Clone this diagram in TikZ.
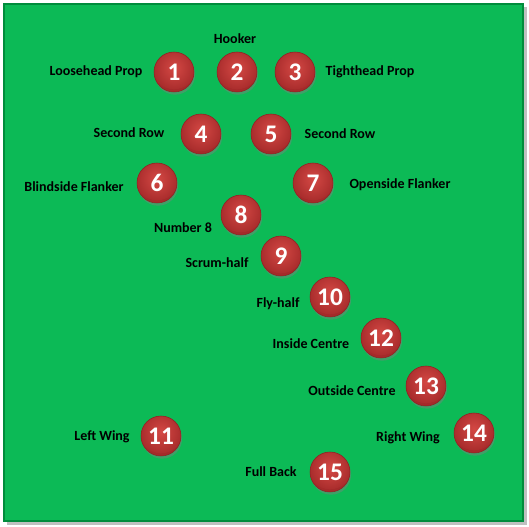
\documentclass[tikz,border=0pt]{standalone}
\usepackage{fontspec}
\setmainfont{Carlito}
\usetikzlibrary{shadows}
\definecolor{vertTerrain}{RGB}{12, 186, 86}
\definecolor{vertBord}{RGB}{0, 140, 60}
\definecolor{rougeBalle}{RGB}{212, 72, 68}
\definecolor{rougeFonce}{RGB}{165, 42, 42}
\definecolor{griOmbre}{RGB}{150, 150, 150}

\begin{document}
\begin{tikzpicture}[x=0.75pt, y=-0.75pt,
  ball/.style={circle, minimum size=30pt, inner sep=0pt,
    fill=rougeFonce, draw=rougeFonce!85!black, thin,
    path picture={\shade[inner color=rougeBalle, outer color=rougeFonce]
      ([yshift=4pt]path picture bounding box.center) circle (17pt);},
    drop shadow={shadow xshift=0.8pt, shadow yshift=-2pt, opacity=0.45},
    text=white, font=\fontsize{19}{19}\selectfont\bfseries},
  lbl/.style={font=\fontsize{10.5}{12}\selectfont\bfseries, text=black},
]
\useasboundingbox (0,0) rectangle (529,527);
% terrain
\fill[griOmbre!60] (7,7) rectangle (527,525);
\draw[fill=vertTerrain, draw=vertBord, line width=1pt] (4,4) rectangle (523,521);
% avants
\node[ball] (p1)  at (174, 72)  {1};
\node[ball] (p2)  at (237, 72)  {2};
\node[ball] (p3)  at (295, 72)  {3};
\node[ball] (p4)  at (201,134)  {4};
\node[ball] (p5)  at (271,134)  {5};
\node[ball] (p6)  at (157,183)  {6};
\node[ball] (p7)  at (313,183)  {7};
\node[ball] (p8)  at (241,215)  {8};
% arrieres
\node[ball] (p9)  at (281,256)  {9};
\node[ball] (p10) at (330,297)  {10};
\node[ball] (p12) at (381,338)  {12};
\node[ball] (p13) at (426,386)  {13};
\node[ball] (p11) at (161,436)  {11};
\node[ball] (p14) at (474,433)  {14};
\node[ball] (p15) at (330,472)  {15};
% noms des postes
\node[lbl] (l2)  at (235, 39)  {Hooker};
\node[lbl] (l1)  at ( 96, 72)  {Loosehead Prop};
\node[lbl] (l3)  at (370, 72)  {Tighthead Prop};
\node[lbl] (l4)  at (129,133)  {Second Row};
\node[lbl] (l5)  at (340,134)  {Second Row};
\node[lbl] (l6)  at ( 74,187)  {Blindside Flanker};
\node[lbl] (l7)  at (400,185)  {Openside Flanker};
\node[lbl] (l8)  at (183,228)  {Number 8};
\node[lbl] (l9)  at (217,263)  {Scrum-half};
\node[lbl] (l10) at (278,304)  {Fly-half};
\node[lbl] (l12) at (311,344)  {Inside Centre};
\node[lbl] (l13) at (352,391)  {Outside Centre};
\node[lbl] (l11) at (102,437)  {Left Wing};
\node[lbl] (l14) at (408,438)  {Right Wing};
\node[lbl] (l15) at (271,472)  {Full Back};
\end{tikzpicture}
\end{document}
